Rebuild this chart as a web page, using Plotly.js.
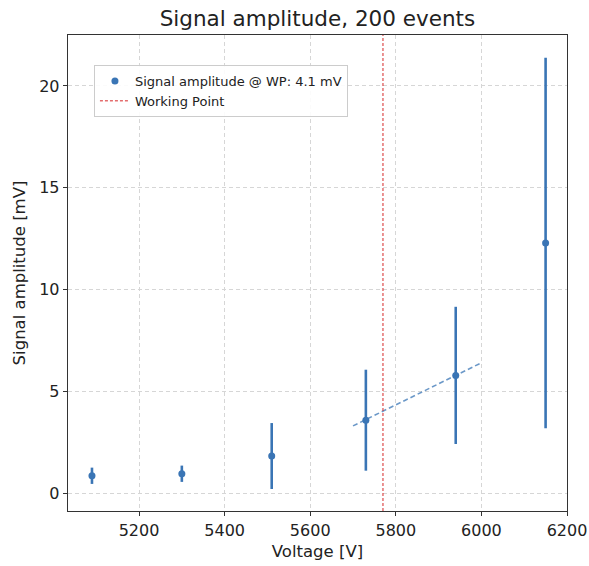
<!DOCTYPE html>
<html>
<head>
<meta charset="utf-8">
<script src="https://cdn.plot.ly/plotly-3.0.1.min.js"></script>
<style>html,body{margin:0;padding:0;background:#fff;}</style>
</head>
<body>
<div id="chart" style="width:589px;height:566px;"></div>
<script>
// Data
const voltages = [5090, 5300, 5510, 5730, 5940, 6150];
const amplitudes = [0.85, 0.95, 1.82, 3.58, 5.78, 12.28];
const amplitudeErrors = [0.4, 0.4, 1.62, 2.48, 3.37, 9.1];
const fitVoltages = [5700, 6000];
const fitAmplitudes = [3.3, 6.4];
const workingPoint = 5770;
const wpAmplitude = 4.1;
const yRange = [-0.88, 22.5];
const xRange = [5034, 6200];
const xTicks = [5200, 5400, 5600, 5800, 6000, 6200];
const yTicks = [0, 5, 10, 15, 20];

const blue = '#3a75b5';
const font = 'DejaVu Sans, sans-serif';

const traces = [
  {
    x: voltages, y: amplitudes, type: 'scatter', mode: 'markers',
    name: 'Signal amplitude @ WP: ' + wpAmplitude + ' mV',
    marker: {color: blue, size: 7},
    error_y: {type: 'data', array: amplitudeErrors, visible: true, color: blue, thickness: 2.6, width: 0}
  },
  {
    x: fitVoltages, y: fitAmplitudes, type: 'scatter', mode: 'lines',
    showlegend: false,
    line: {color: 'rgba(58,117,181,0.75)', width: 1.6, dash: '5px,3px'}
  },
  {
    x: [workingPoint, workingPoint], y: yRange, type: 'scatter', mode: 'lines',
    name: 'Working Point',
    line: {color: '#d62728', width: 1, dash: '3px,2px'}
  }
];

const axisCommon = {
  showline: true, mirror: true, linecolor: '#333', linewidth: 1.3,
  ticks: 'outside', ticklen: 4, tickwidth: 1, tickcolor: '#333',
  showgrid: true, gridcolor: '#d6d6d6', griddash: '4px,3px', gridwidth: 1,
  zeroline: false,
  tickfont: {family: font, size: 16, color: '#222'}
};

const layout = {
  width: 589, height: 566,
  margin: {l: 68, r: 22, t: 35, b: 55},
  paper_bgcolor: '#fff', plot_bgcolor: '#fff',
  title: {text: 'Signal amplitude, 200 events', font: {family: font, size: 21.5, color: '#222'},
          x: 0.539, xanchor: 'center', yref: 'container', y: 0.968, yanchor: 'middle'},
  xaxis: Object.assign({}, axisCommon, {
    range: xRange, tickvals: xTicks, ticktext: xTicks.map(String),
    title: {text: 'Voltage [V]', font: {family: font, size: 16.5, color: '#222'}, standoff: 7}
  }),
  yaxis: Object.assign({}, axisCommon, {
    range: yRange, tickvals: yTicks, ticktext: yTicks.map(String),
    title: {text: 'Signal amplitude [mV]', font: {family: font, size: 16.5, color: '#222'}, standoff: 9}
  }),
  showlegend: true,
  legend: {
    x: 0.052, y: 0.937, xanchor: 'left', yanchor: 'top',
    bgcolor: 'rgba(255,255,255,0.9)', bordercolor: '#cccccc', borderwidth: 1,
    font: {family: font, size: 13, color: '#222'},
    tracegroupgap: 0, itemwidth: 30
  }
};

Plotly.newPlot('chart', traces, layout, {displayModeBar: false, staticPlot: true});
</script>
</body>
</html>
